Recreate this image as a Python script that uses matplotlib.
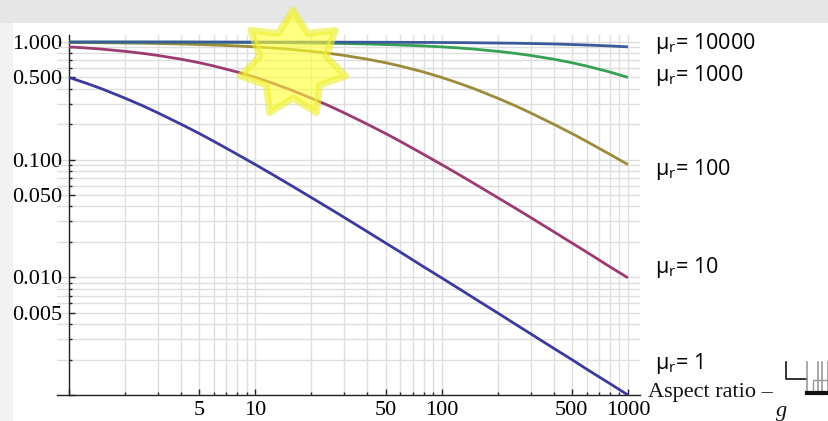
import numpy as np
import matplotlib
matplotlib.use("Agg")
import matplotlib.pyplot as plt
from matplotlib.patches import Polygon, Rectangle
from matplotlib.lines import Line2D
from matplotlib.ticker import FixedLocator, NullFormatter

plt.rcParams['mathtext.fontset'] = 'custom'
plt.rcParams['mathtext.rm'] = 'Open Sans'

# aspect ratio values and field ratio for each permeability
aspect = [1, 1.25, 1.5, 2, 2.5, 3, 4, 5, 6, 8, 10, 12.5, 15, 20, 25, 30, 40, 50, 60, 80,
          100, 125, 150, 200, 250, 300, 400, 500, 600, 800, 1000]
mu_1 = [0.5, 0.444, 0.4, 0.333, 0.286, 0.25, 0.2, 0.167, 0.143, 0.111, 0.0909, 0.0741,
        0.0625, 0.0476, 0.0385, 0.0323, 0.0244, 0.0196, 0.0164, 0.0123, 0.0099, 0.00794,
        0.00662, 0.00498, 0.00398, 0.00332, 0.00249, 0.002, 0.00166, 0.00125, 0.001]
mu_10 = [0.909, 0.889, 0.870, 0.833, 0.8, 0.769, 0.714, 0.667, 0.625, 0.556, 0.5, 0.444,
         0.4, 0.333, 0.286, 0.25, 0.2, 0.167, 0.143, 0.111, 0.0909, 0.0741, 0.0625,
         0.0476, 0.0385, 0.0323, 0.0244, 0.0196, 0.0164, 0.0123, 0.0099]
mu_100 = [0.990, 0.988, 0.985, 0.980, 0.976, 0.971, 0.962, 0.952, 0.943, 0.926, 0.909,
          0.889, 0.870, 0.833, 0.8, 0.769, 0.714, 0.667, 0.625, 0.556, 0.5, 0.444, 0.4,
          0.333, 0.286, 0.25, 0.2, 0.167, 0.143, 0.111, 0.0909]
mu_1000 = [0.999, 0.999, 0.9985, 0.998, 0.9975, 0.997, 0.996, 0.995, 0.994, 0.992, 0.990,
           0.988, 0.985, 0.980, 0.976, 0.971, 0.962, 0.952, 0.943, 0.926, 0.909, 0.889,
           0.870, 0.833, 0.8, 0.769, 0.714, 0.667, 0.625, 0.556, 0.5]
mu_10000 = [1.0, 1.0, 1.0, 1.0, 1.0, 1.0, 1.0, 0.9995, 0.9994, 0.9992, 0.999, 0.9988,
            0.9985, 0.998, 0.9975, 0.997, 0.996, 0.995, 0.994, 0.992, 0.990, 0.988,
            0.985, 0.980, 0.976, 0.971, 0.962, 0.952, 0.943, 0.926, 0.909]

series = [mu_1, mu_10, mu_100, mu_1000, mu_10000]
colors = ['#3c3a9c', '#9c3a72', '#9c8b38', '#38a055', '#3a5a9c']
mu_labels = ['1', '10', '100', '1000', '10000']

y_major = [0.001, 0.005, 0.01, 0.05, 0.1, 0.5, 1.0]
y_major_labels = ['', '0.005', '0.010', '0.050', '0.100', '0.500', '1.000']
x_major = [1, 5, 10, 50, 100, 500, 1000]
x_major_labels = ['', '5', '10', '50', '100', '500', '1000']

W, H = 829, 421
fig = plt.figure(figsize=(W / 100, H / 100), dpi=100)

# gray frame around the white page
fig.patches.append(Rectangle((0, 0), 1, 1, transform=fig.transFigure,
                             facecolor='#f2f2f2', edgecolor='none', zorder=-10))
fig.patches.append(Rectangle((0, (H - 23) / H), 1, 23 / H, transform=fig.transFigure,
                             facecolor='#e6e6e6', edgecolor='none', zorder=-9))
fig.patches.append(Rectangle((13 / W, 0), 1, (H - 23) / H, transform=fig.transFigure,
                             facecolor='white', edgecolor='none', zorder=-9))

ax = fig.add_axes([57 / W, (H - 395) / H, (640 - 57) / W, (395 - 35) / H])
ax.patch.set_alpha(0)
ax.set_xscale('log')
ax.set_yscale('log')
ax.set_xlim(0.862, 1161)
ax.set_ylim(0.001, 1.147)

for ys, c in zip(series, colors):
    ax.plot(aspect, ys, color=c, lw=2.0, solid_capstyle='butt', zorder=3)

# ticks
x_minor = [m * 10 ** k for k in range(0, 3) for m in range(2, 10) if m != 5]
y_minor = [m * 10.0 ** k for k in range(-3, 0) for m in range(2, 10) if m != 5]
ax.xaxis.set_major_locator(FixedLocator(x_major))
ax.xaxis.set_minor_locator(FixedLocator(x_minor))
ax.yaxis.set_major_locator(FixedLocator(y_major))
ax.yaxis.set_minor_locator(FixedLocator(y_minor))
ax.set_xticklabels(x_major_labels)
ax.set_yticklabels(y_major_labels)
ax.xaxis.set_minor_formatter(NullFormatter())
ax.yaxis.set_minor_formatter(NullFormatter())

ax.grid(which='both', color='#dedede', lw=1.0, zorder=0)
ax.set_axisbelow(True)

ax.spines['left'].set_position(('data', 1))
ax.spines['top'].set_visible(False)
ax.spines['right'].set_visible(False)
for s in ('left', 'bottom'):
    ax.spines[s].set_linewidth(1.0)
    ax.spines[s].set_color('#222222')

ax.tick_params(which='major', direction='in', length=4, width=1, color='#222222',
               labelsize=16)
ax.tick_params(axis='x', which='major', pad=4.5)
ax.tick_params(axis='y', which='major', pad=5)
ax.tick_params(which='minor', direction='in', length=2.5, width=1, color='#222222')
for lab in ax.get_xticklabels() + ax.get_yticklabels():
    lab.set_fontfamily('Liberation Serif')

# permeability labels on the right
label_y = [364, 268, 170, 76, 44]
for lab, py in zip(mu_labels, label_y):
    fig.text(655 / W, (H - py) / H, 'μ$_{\\mathrm{r}}$= ' + lab, fontsize=15.5,
             family='Open Sans', va='center', ha='left', color='#000000')

# axis title with broken fraction glyphs
fig.text(648 / W, (H - 397) / H, 'Aspect ratio –', fontsize=16,
         family='Liberation Serif', va='baseline', ha='left', color='#111111')
fig.text(782 / W, (H - 416) / H, 'g', fontsize=16, style='italic',
         family='Liberation Serif', va='baseline', ha='center', color='#111111')

def px(points):
    return [p[0] / W for p in points], [(H - p[1]) / H for p in points]

glyph_lines = [
    ([(786, 362), (786, 379), (807, 379)], '#111111', 1.2),
    ([(807, 362), (807, 393)], '#999999', 1.2),
    ([(818, 362), (818, 393)], '#999999', 1.2),
    ([(822, 362), (822, 393)], '#999999', 1.2),
    ([(828, 362), (828, 393)], '#999999', 1.2),
    ([(813, 393), (813, 380), (829, 380)], '#999999', 1.0),
    ([(807, 393), (822, 393)], '#111111', 3),
    ([(824, 393), (829, 393)], '#111111', 3),
]
for pts, c, lw in glyph_lines:
    xs, ys = px(pts)
    fig.add_artist(Line2D(xs, ys, transform=fig.transFigure, color=c, lw=lw))

# seven-pointed star highlight
cx, cy, r_out, r_in = 293, 64, 54, 34
verts = []
for i in range(14):
    ang = np.pi / 2 - i * np.pi / 7
    r = r_out if i % 2 == 0 else r_in
    verts.append(((cx + r * np.cos(ang)) / W, (H - (cy - r * np.sin(ang))) / H))
fig.add_artist(Polygon(verts, closed=True, transform=fig.transFigure,
                       facecolor='#ffff33', edgecolor='none', alpha=0.62, zorder=10))
fig.add_artist(Polygon(verts, closed=True, transform=fig.transFigure,
                       facecolor='none', edgecolor='#eeee30', lw=5, alpha=0.6,
                       joinstyle='round', zorder=11))

fig.savefig('out.png', dpi=100)
